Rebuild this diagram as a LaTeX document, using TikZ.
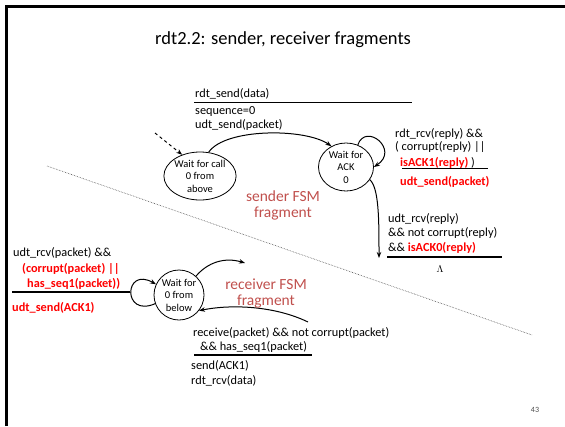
\documentclass[tikz,border=0pt]{standalone}
\usepackage{fontspec}
\setmainfont{Carlito}
\usetikzlibrary{arrows.meta,positioning,shapes.geometric}
\definecolor{fsmred}{RGB}{192,80,77}

\begin{document}
\begin{tikzpicture}[x=1pt,y=-1pt,>={Stealth[length=6pt,width=4.5pt]},
  state/.style={draw,line width=0.8pt,ellipse,minimum width=55pt,minimum height=48pt,
    inner sep=0pt,align=center,font=\fontsize{10.5}{12.5}\selectfont},
  trans/.style={->,line width=1pt},
  txt/.style={inner sep=0pt,align=left,anchor=base west,font=\fontsize{12.3}{14}\selectfont},
  act/.style={txt,text=red,font=\fontsize{12.3}{14}\selectfont\bfseries},
  bar/.style={line width=1.2pt},
  frag/.style={text=fsmred,align=center,font=\fontsize{15.5}{16}\selectfont}]
  \useasboundingbox (0,0) rectangle (565,426);
  \draw[line width=2.5pt] (6.5,426) -- (6.5,6.5) -- (565,6.5);
  \node[font=\fontsize{18.5}{20}\selectfont] (title) at (283,40) {rdt2.2: sender, receiver fragments};
  \node[state] (call0) at (200,176) {Wait for call\\0 from\\above};
  \node[state] (ack0) at (346,167) {Wait for\\ACK\\0};
  \node[state,minimum width=50pt,minimum height=50pt] (below0) at (179,295) {Wait for\\0 from\\below};
  \coordinate (init) at (155,133);
  \draw[trans,dashed] (init) -- (call0.130);
  \draw[trans] (call0.70) .. controls (225,128) and (305,128) .. (ack0.125);
  \node[txt] (sendin) at (195,97) {rdt\_send(data)};
  \node[txt] (sendout) at (195,128.5) {sequence=0\\udt\_send(packet)};
  \draw[bar] (194,102.5) -- (412,102.5);
  \draw[trans] (ack0.62) .. controls (366,122) and (400,150) .. (ack0.0);
  \node[txt,font=\fontsize{12.3}{13}\selectfont] (resendin) at (395,150) {rdt\_rcv(reply) \&\&\\( corrupt(reply) ||};
  \node[txt] (resendack) at (400,166) {\textcolor{red}{\bfseries isACK1(reply)} )};
  \draw[bar] (402,168.5) -- (488,168.5);
  \node[act] (resendout) at (400,185) {udt\_send(packet)};
  \coordinate (ack0out) at (379,258);
  \draw[trans] (ack0.-28) .. controls (379,188) and (379,220) .. (ack0out);
  \node[txt,font=\fontsize{12.3}{14.5}\selectfont] (donein) at (388,251)
    {udt\_rcv(reply)\\\&\& not corrupt(reply)\\\&\& \textcolor{red}{\bfseries isACK0(reply)}};
  \draw[bar] (387,257) -- (502,257);
  \node[inner sep=0pt,anchor=base] (doneout) at (440,272) {$\Lambda$};
  \node[frag] (sendfsm) at (283,205) {sender FSM\\fragment};
  \coordinate (divL) at (47,166);
  \coordinate (divR) at (532,335);
  \draw[densely dotted,line width=0.6pt,black!70] (divL) -- (divR);
  \draw[trans] (below0.200) .. controls (122,318) and (124,266) .. (below0.155);
  \node[txt] (nakin) at (13,256) {udt\_rcv(packet) \&\&};
  \node[act] (nakwhy) at (22,272) {(corrupt(packet) ||};
  \node[act] (nakseq) at (27,287) {has\_seq1(packet))};
  \draw[bar] (12,292) -- (130,292);
  \node[act] (nakout) at (12,311) {udt\_send(ACK1)};
  \coordinate (below0out) at (245,263);
  \draw[trans] (below0.48) .. controls (208,262) and (225,257) .. (below0out);
  \coordinate (below0in) at (308,322);
  \draw[trans] (below0in) .. controls (275,306) and (232,304) .. (below0.-38);
  \node[frag] (recvfsm) at (266,293) {receiver FSM\\fragment};
  \node[txt] (recvin) at (193,336) {receive(packet) \&\& not corrupt(packet)};
  \node[txt] (recvseq) at (200,350) {\&\& has\_seq1(packet)};
  \draw[bar] (194,355) -- (312,355);
  \node[txt,font=\fontsize{12.3}{15}\selectfont] (recvout) at (191,384) {send(ACK1)\\rdt\_rcv(data)};
  \node[text=black!70,font=\fontsize{8}{8}\selectfont] (page) at (535,410) {43};
\end{tikzpicture}
\end{document}
